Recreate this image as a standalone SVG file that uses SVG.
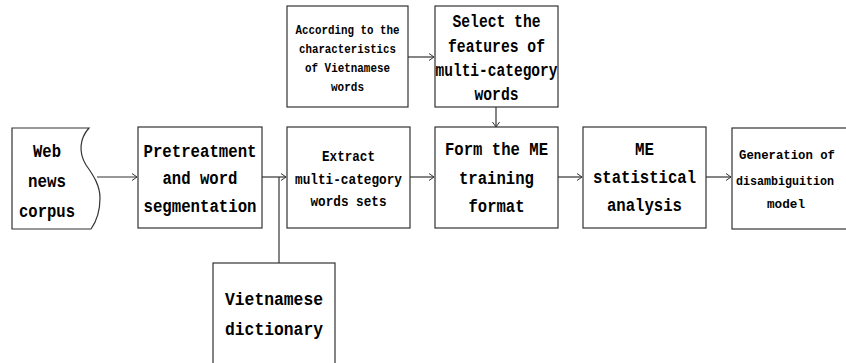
<svg xmlns="http://www.w3.org/2000/svg" width="846" height="363" viewBox="0 0 846 363">
<style>
.box{fill:#fff;stroke:#333;stroke-width:1.2}
.t{font-family:"Liberation Mono","DejaVu Sans Mono",monospace;font-weight:bold;fill:#000;text-anchor:middle;dominant-baseline:central}
.l{font-size:19px}
.m{font-size:15px}
.g{font-size:13.5px}
.s{font-size:13px}
.k{font-size:17.5px}
.c{fill:none;stroke:#333;stroke-width:1.2}
</style>
<defs>
<marker id="ah" markerWidth="8" markerHeight="8" refX="6" refY="4" orient="auto" markerUnits="userSpaceOnUse">
<path d="M1,0.5 L6,4 L1,7.5" fill="none" stroke="#333" stroke-width="1"/>
</marker>
</defs>
<rect width="846" height="363" fill="#fff"/>
<g id="connectors">
<path class="c" d="M97,177 H137" marker-end="url(#ah)"/>
<path class="c" d="M262,177 H286" marker-end="url(#ah)"/>
<path class="c" d="M279,177 V263"/>
<path class="c" d="M410,177 H434" marker-end="url(#ah)"/>
<path class="c" d="M558,177 H582" marker-end="url(#ah)"/>
<path class="c" d="M706,177 H731" marker-end="url(#ah)"/>
<path class="c" d="M408,57 H434" marker-end="url(#ah)"/>
<path class="c" d="M496,107 V127" marker-end="url(#ah)"/>
</g>
<g id="web-news-corpus">
<path class="box" d="M12,128 H89 C80,138 78,152 86,165 C94,176 100,186 100,198 C100,212 96,222 91,229 H12 Z"/>
<text class="t l" x="47" y="152" textLength="28" lengthAdjust="spacingAndGlyphs">Web</text>
<text class="t l" x="47" y="182" textLength="38" lengthAdjust="spacingAndGlyphs">news</text>
<text class="t l" x="47" y="212" textLength="56" lengthAdjust="spacingAndGlyphs">corpus</text>
</g>
<g id="pretreatment">
<rect class="box" x="138" y="127" width="124" height="101"/>
<text class="t l" x="200" y="152" textLength="113" lengthAdjust="spacingAndGlyphs">Pretreatment</text>
<text class="t l" x="200" y="179" textLength="75" lengthAdjust="spacingAndGlyphs">and word</text>
<text class="t l" x="200" y="207" textLength="113" lengthAdjust="spacingAndGlyphs">segmentation</text>
</g>
<g id="extract">
<rect class="box" x="287" y="127" width="123" height="101"/>
<text class="t m" x="348.5" y="157" textLength="53" lengthAdjust="spacingAndGlyphs">Extract</text>
<text class="t m" x="348.5" y="180" textLength="107" lengthAdjust="spacingAndGlyphs">multi-category</text>
<text class="t m" x="348.5" y="202" textLength="76" lengthAdjust="spacingAndGlyphs">words sets</text>
</g>
<g id="form-me">
<rect class="box" x="435" y="127" width="123" height="101"/>
<text class="t l" x="496.5" y="150" textLength="103" lengthAdjust="spacingAndGlyphs">Form the ME</text>
<text class="t l" x="496.5" y="179" textLength="75" lengthAdjust="spacingAndGlyphs">training</text>
<text class="t l" x="496.5" y="207" textLength="56" lengthAdjust="spacingAndGlyphs">format</text>
</g>
<g id="me-analysis">
<rect class="box" x="583" y="127" width="123" height="101"/>
<text class="t l" x="644.5" y="150" textLength="19" lengthAdjust="spacingAndGlyphs">ME</text>
<text class="t l" x="644.5" y="178" textLength="103" lengthAdjust="spacingAndGlyphs">statistical</text>
<text class="t l" x="644.5" y="206" textLength="75" lengthAdjust="spacingAndGlyphs">analysis</text>
</g>
<g id="generation">
<rect class="box" x="732" y="128" width="130" height="101"/>
<text class="t g" x="787" y="155" textLength="96" lengthAdjust="spacingAndGlyphs">Generation of</text>
<text class="t s" x="785" y="181" textLength="98" lengthAdjust="spacingAndGlyphs">disambiguition</text>
<text class="t g" x="786" y="204" textLength="38" lengthAdjust="spacingAndGlyphs">model</text>
</g>
<g id="according">
<rect class="box" x="287" y="6" width="121" height="101"/>
<text class="t s" x="347.5" y="30" textLength="104" lengthAdjust="spacingAndGlyphs">According to the</text>
<text class="t s" x="347.5" y="49" textLength="97" lengthAdjust="spacingAndGlyphs">characteristics</text>
<text class="t s" x="347.5" y="68" textLength="85" lengthAdjust="spacingAndGlyphs">of Vietnamese</text>
<text class="t s" x="347.5" y="87" textLength="33" lengthAdjust="spacingAndGlyphs">words</text>
</g>
<g id="select-features">
<rect class="box" x="435" y="6" width="123" height="101"/>
<text class="t k" x="496.5" y="22" textLength="88" lengthAdjust="spacingAndGlyphs">Select the</text>
<text class="t k" x="496.5" y="47" textLength="97" lengthAdjust="spacingAndGlyphs">features of</text>
<text class="t k" x="496.5" y="71" textLength="122" lengthAdjust="spacingAndGlyphs">multi-category</text>
<text class="t k" x="496.5" y="95" textLength="44" lengthAdjust="spacingAndGlyphs">words</text>
</g>
<g id="vietnamese-dictionary">
<rect class="box" x="213" y="263" width="122" height="110"/>
<text class="t l" x="274" y="300" textLength="98" lengthAdjust="spacingAndGlyphs">Vietnamese</text>
<text class="t l" x="274" y="330" textLength="98" lengthAdjust="spacingAndGlyphs">dictionary</text>
</g>
</svg>
